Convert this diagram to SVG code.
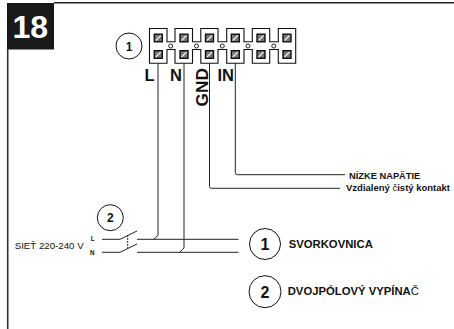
<svg xmlns="http://www.w3.org/2000/svg" width="454" height="329" viewBox="0 0 454 329">
<defs>
<style>
text{font-family:"Liberation Sans",Arial,sans-serif;font-weight:bold;fill:#111}
.w{fill:none;stroke:#222;stroke-width:1}
.c{fill:#fff;stroke:#111;stroke-width:1}
.s{fill:#777;stroke:#111;stroke-width:1.4}
.h{stroke:#eee;stroke-width:1.2}
.l{font-weight:normal}
</style>
<g id="screw"><rect class="s" x="-4" y="-3.8" width="8" height="7.6"/><path class="h" d="M-2.5 2.5L2.5-2.5"/></g>
</defs>
<rect width="454" height="329" fill="#fff"/>
<g id="frame">
<path d="M54 2.800H454" stroke="#222" stroke-width="1.600" fill="none"/>
<path d="M7.700 49V329" stroke="#333" stroke-width="1.600" fill="none"/>
<rect x="7" y="3" width="47" height="46.500" fill="#1a1a1a"/>
<text x="12.500" y="38" font-size="32" style="fill:#fff">18</text>
</g>
<g id="connectors">
<path class="w" d="M158 63V235.500L153.500 239.500M184 63V248L179.500 252.300M209.500 63V186.500Q209.500 188.300 211.500 188.300H340M235.300 63V172.500Q235.300 174.700 237.500 174.700H345"/>
<path class="w" d="M102 239.300H120L137 231M137 239.300H238.500M102 252.300H120L137 244M137 252.300H238.500"/>
<path class="w" d="M127.700 235V248" stroke-dasharray="2 1"/>
</g>
<g id="terminal-block">
<path d="M149.500 28.500H167V41.700H175V28.500H192.500V41.700H200.800V28.500H218V41.700H226.700V28.500H244V41.700H252.300V28.500H269.700V41.700H278.300V28.500H295.700V63.300H278.300V49.500H269.700V63.300H252.300V49.500H244V63.300H226.700V49.500H218V63.300H200.800V49.500H192.500V63.300H175V49.500H167V63.300H149.500Z" fill="#fff" stroke="#111" stroke-width="1.100"/>
<g fill="#fff" stroke="#111" stroke-width="0.900">
<circle cx="170.700" cy="46" r="2"/><circle cx="196.500" cy="46" r="2"/><circle cx="222.300" cy="46" r="2"/><circle cx="248" cy="46" r="2"/><circle cx="273.800" cy="46" r="2"/>
</g>
<use href="#screw" x="158.300" y="38"/><use href="#screw" x="184" y="38"/><use href="#screw" x="209.500" y="38"/><use href="#screw" x="235.300" y="38"/><use href="#screw" x="261" y="38"/><use href="#screw" x="287" y="38"/>
<use href="#screw" x="158.300" y="54.500"/><use href="#screw" x="184" y="54.500"/><use href="#screw" x="209.500" y="54.500"/><use href="#screw" x="235.300" y="54.500"/><use href="#screw" x="261" y="54.500"/><use href="#screw" x="287" y="54.500"/>
</g>
<g id="terminal-labels" font-size="16.500">
<text x="144.500" y="81">L</text>
<text x="170" y="81">N</text>
<text x="217.500" y="81">IN</text>
<text transform="translate(208.300 106.500) rotate(-90)" font-size="17.300">GND</text>
</g>
<g id="callout-1"><circle class="c" cx="129" cy="46" r="13"/><text x="129" y="50.500" font-size="12" text-anchor="middle">1</text></g>
<g id="callout-2"><circle class="c" cx="110.300" cy="217.700" r="13"/><text x="110.300" y="222" font-size="12" text-anchor="middle">2</text></g>
<g id="supply">
<text x="14.700" y="249" font-size="9.700" class="l">SIEŤ 220-240 V</text>
<text x="90.700" y="241" font-size="6.300">L</text>
<text x="90" y="254.500" font-size="6.300">N</text>
</g>
<g id="low-voltage"><text x="349" y="179" font-size="9.300">NÍZKE NAPÄTIE</text></g>
<g id="dry-contact"><text x="346" y="191" font-size="9.500">Vzdialený <tspan class="l">č</tspan>istý kontakt</text></g>
<g id="legend-1"><circle class="c" cx="265" cy="244" r="15.500"/><text x="265" y="249.500" font-size="16" text-anchor="middle">1</text><text x="288.700" y="248" font-size="11.300">SVORKOVNICA</text></g>
<g id="legend-2"><circle class="c" cx="265" cy="291.700" r="16"/><text x="265" y="297.500" font-size="16" text-anchor="middle">2</text><text x="287.700" y="295" font-size="11.300">DVOJPÓLOVÝ VYPÍNA<tspan class="l">Č</tspan></text></g>
</svg>
